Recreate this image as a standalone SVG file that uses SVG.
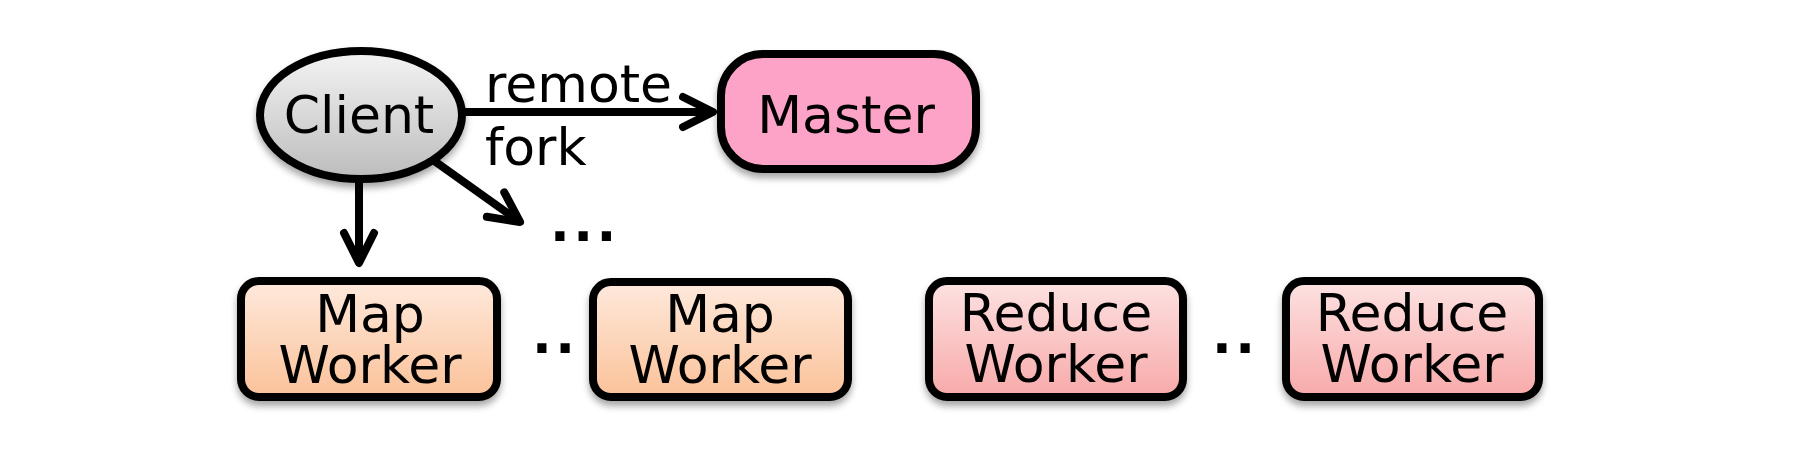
<svg xmlns="http://www.w3.org/2000/svg" width="1820" height="456" viewBox="0 0 1820 456">
<style>
.lbl{font-family:"DejaVu Sans","Verdana",sans-serif;font-size:52px;fill:#000;text-anchor:middle}
.edge{font-family:"DejaVu Sans","Verdana",sans-serif;font-size:52px;fill:#000}
.dots{font-family:"DejaVu Sans",sans-serif;font-size:52px;font-weight:bold;fill:#000;letter-spacing:3.5px}
.node{stroke:#000;stroke-width:8;filter:url(#sh)}
.conn{stroke:#000;stroke-width:8;fill:none;marker-end:url(#arr)}
</style>
<defs>
<filter id="sh" x="-20%" y="-20%" width="140%" height="150%">
<feDropShadow dx="0" dy="5" stdDeviation="3.5" flood-color="#000" flood-opacity="0.35"/>
</filter>
<linearGradient id="gClient" x1="0" y1="0" x2="0" y2="1">
<stop offset="0" stop-color="#F4F4F4"/><stop offset="1" stop-color="#BCBCBC"/>
</linearGradient>
<linearGradient id="gMap" x1="0" y1="0" x2="0" y2="1">
<stop offset="0" stop-color="#FEE9DC"/><stop offset="1" stop-color="#FBC299"/>
</linearGradient>
<linearGradient id="gRed" x1="0" y1="0" x2="0" y2="1">
<stop offset="0" stop-color="#FDE2E2"/><stop offset="1" stop-color="#F8A9A9"/>
</linearGradient>
<marker id="arr" markerUnits="userSpaceOnUse" viewBox="-40 -25 50 50" markerWidth="50" markerHeight="50" refX="0" refY="0" orient="auto" overflow="visible">
<path d="M-30,-15 L0,0 L-30,15" fill="none" stroke="#000" stroke-width="8" stroke-linecap="round" stroke-linejoin="round"/>
</marker>
</defs>
<rect width="1820" height="456" fill="#fff"/>

<g id="connectors">
<line class="conn" x1="465" y1="112" x2="713" y2="112"/>
<line class="conn" x1="359" y1="180" x2="359" y2="263"/>
<line class="conn" x1="433" y1="160" x2="520" y2="222"/>
<text class="edge" x="485" y="102">remote</text>
<text class="edge" x="485" y="165">fork</text>
</g>

<g id="client">
<ellipse class="node" cx="361" cy="115" rx="101" ry="64" fill="url(#gClient)"/>
<text class="lbl" x="359" y="133">Client</text>
</g>

<g id="master">
<rect class="node" x="721" y="54" width="255" height="115" rx="42" fill="#FCA3C7"/>
<text class="lbl" x="846" y="133">Master</text>
</g>

<g id="fork-ellipsis">
<text class="dots" x="550" y="241">...</text>
</g>

<g id="map-worker-1">
<rect class="node" x="241" y="281" width="256" height="116" rx="18" fill="url(#gMap)"/>
<text class="lbl" x="370" y="332">Map</text>
<text class="lbl" x="370" y="383">Worker</text>
</g>

<g id="map-ellipsis">
<text class="dots" x="532" y="353">..</text>
</g>

<g id="map-worker-2">
<rect class="node" x="593" y="282" width="255" height="115" rx="18" fill="url(#gMap)"/>
<text class="lbl" x="720" y="332">Map</text>
<text class="lbl" x="720" y="383">Worker</text>
</g>

<g id="reduce-worker-1">
<rect class="node" x="929" y="281" width="254" height="116" rx="18" fill="url(#gRed)"/>
<text class="lbl" x="1056" y="331">Reduce</text>
<text class="lbl" x="1056" y="382">Worker</text>
</g>

<g id="reduce-ellipsis">
<text class="dots" x="1212" y="353">..</text>
</g>

<g id="reduce-worker-2">
<rect class="node" x="1286" y="281" width="253" height="116" rx="18" fill="url(#gRed)"/>
<text class="lbl" x="1412" y="331">Reduce</text>
<text class="lbl" x="1412" y="382">Worker</text>
</g>
</svg>
